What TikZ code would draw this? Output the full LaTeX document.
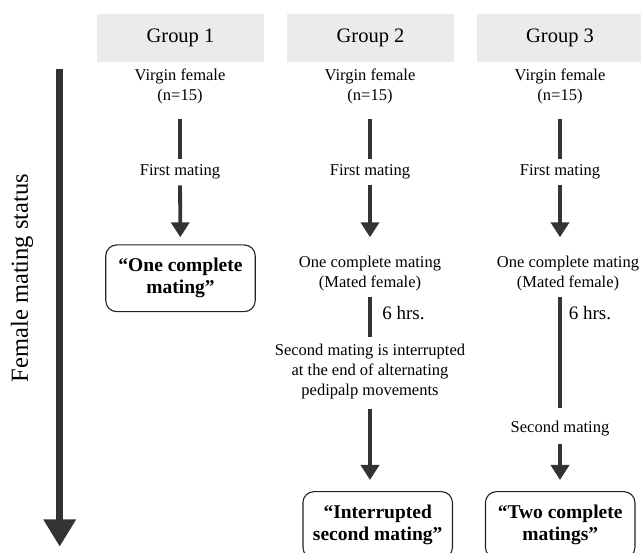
\documentclass[tikz,border=0pt]{standalone}
\usepackage{fontspec}
\setmainfont{Liberation Serif}
\usetikzlibrary{arrows.meta}
\definecolor{hdrgray}{HTML}{EBEBEB}
\definecolor{arrowgray}{HTML}{333333}
\definecolor{boxline}{HTML}{222222}
\tikzset{
  hdr/.style={fill=hdrgray, minimum width=167pt, minimum height=47.7pt, inner sep=0pt,
    font=\fontsize{20.5}{24}\selectfont},
  small/.style={align=center, inner sep=0pt, font=\fontsize{16.5}{20}\selectfont},
  hrslabel/.style={inner sep=0pt, font=\fontsize{19}{22}\selectfont},
  result/.style={draw=boxline, line width=1.1pt, rounded corners=11pt, align=center,
    minimum width=149.5pt, minimum height=66.7pt, inner sep=0pt,
    font=\bfseries\fontsize{19.5}{22}\selectfont},
  link/.style={draw=arrowgray, line width=3.8pt},
  flow/.style={draw=arrowgray, line width=3.8pt,
    -{Triangle[width=18pt,length=15pt]}, fill=arrowgray},
  timeaxis/.style={draw=arrowgray, line width=7.3pt,
    -{Triangle[width=31pt,length=27.4pt]}, fill=arrowgray},
}
\begin{document}
\begin{tikzpicture}[x=1pt,y=1pt]
\useasboundingbox (0,0) rectangle (641,-553);

% headers
\node[hdr] (g1) at (180.5,-37.85) {Group 1};
\node[hdr] (g2) at (370.5,-37.85) {Group 2};
\node[hdr] (g3) at (560,-37.85) {Group 3};

% left axis
\coordinate (axtop) at (59.7,-69);
\coordinate (axbot) at (59.7,-546.7);
\draw[timeaxis] (axtop) -- (axbot);
\node[rotate=90, inner sep=0pt, font=\fontsize{24.5}{28}\selectfont] (axlabel) at (22,-278) {Female mating status};

% Group 1
\node[small] (v1) at (180,-86.7) {Virgin female\\(n=15)};
\node[small] (fm1) at (180,-171.7) {First mating};
\node[result] (b1) at (180.5,-278.3) {“One complete\\mating”};
\draw[link, shorten <=32.6pt, shorten >=12.4pt] (v1.center) -- (fm1.center);
\draw[flow, shorten <=13.6pt, shorten >=41pt] (fm1.center) -- (b1.center);

% Group 2
\node[small] (v2) at (370,-86.7) {Virgin female\\(n=15)};
\node[small] (fm2) at (370,-171.7) {First mating};
\node[small] (oc2) at (370,-273.5) {One complete mating\\(Mated female)};
\node[hrslabel] (h2) at (403.5,-313.3) {6 hrs.};
\node[small] (si2) at (370,-371.7) {Second mating is interrupted\\at the end of alternating\\pedipalp movements};
\node[result] (ib2) at (377.7,-525) {“Interrupted\\second mating”};
\draw[link, shorten <=32.6pt, shorten >=12.4pt] (v2.center) -- (fm2.center);
\draw[flow, shorten <=13.6pt, shorten >=36.2pt] (fm2.center) -- (oc2.center);
\draw[link, shorten <=23.8pt, shorten >=34.4pt] (oc2.center) -- (si2.center);
\draw[flow, shorten <=37.6pt, shorten >=45pt] (si2.center) -- (si2.center |- ib2.center);

% Group 3
\node[small] (v3) at (560,-86.7) {Virgin female\\(n=15)};
\node[small] (fm3) at (560,-171.7) {First mating};
\node[small] (oc3) at (568,-273.5) {One complete mating\\(Mated female)};
\node[hrslabel] (h3) at (590,-313.3) {6 hrs.};
\node[small] (sm3) at (560,-429) {Second mating};
\node[result] (tc3) at (560.2,-525) {“Two complete\\matings”};
\draw[link, shorten <=32.6pt, shorten >=12.4pt] (v3.center) -- (fm3.center);
\draw[flow, shorten <=13.6pt, shorten >=36.2pt] (fm3.center) -- (fm3.center |- oc3.center);
\draw[link, shorten <=23.8pt, shorten >=21.3pt] (sm3.center |- oc3.center) -- (sm3.center);
\draw[flow, shorten <=15pt, shorten >=45pt] (sm3.center) -- (sm3.center |- tc3.center);
\end{tikzpicture}
\end{document}
